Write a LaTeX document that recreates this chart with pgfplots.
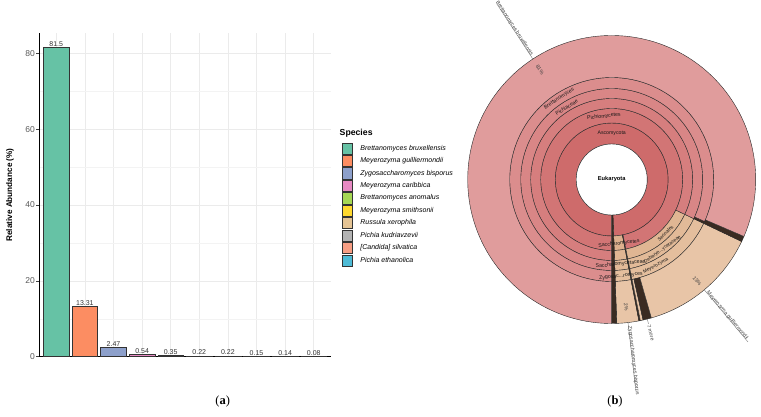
\documentclass[border=0pt]{standalone}
\usepackage{fontspec}
\setmainfont{Liberation Sans}
\newfontfamily\capfont{Liberation Serif}
\usepackage{pgfplots}
\pgfplotsset{compat=1.18}

% bar palette
\definecolor{c1}{HTML}{66C2A5}
\definecolor{c2}{HTML}{FC8D62}
\definecolor{c3}{HTML}{8DA0CB}
\definecolor{c4}{HTML}{E78AC3}
\definecolor{c5}{HTML}{A6D854}
\definecolor{c6}{HTML}{FFD92F}
\definecolor{c7}{HTML}{E5C494}
\definecolor{c8}{HTML}{B3B3B3}
\definecolor{c9}{HTML}{F79E84}
\definecolor{c10}{HTML}{4EBBD6}
\definecolor{gridmaj}{HTML}{EBEBEB}
\definecolor{gridmin}{HTML}{F3F3F3}
% sunburst palette (inner ring to outer ring)
\definecolor{pk1}{HTML}{CE6B6B}
\definecolor{pk2}{HTML}{D27575}
\definecolor{pk3}{HTML}{D67E7E}
\definecolor{pk4}{HTML}{D98686}
\definecolor{pk5}{HTML}{DB8D8D}
\definecolor{pk6}{HTML}{E09C9C}
\definecolor{tn2}{HTML}{DDB08E}
\definecolor{tn3}{HTML}{E0B693}
\definecolor{tn4}{HTML}{E2BA98}
\definecolor{tn5}{HTML}{E4BE9D}
\definecolor{tn6}{HTML}{E8C5A7}
\definecolor{dk}{HTML}{3A2B22}
\definecolor{edge}{HTML}{2A2A2A}

% annular sector: inner radius, outer radius, start angle, end angle, colour
\newcommand{\sector}[5]{%
  \filldraw[fill=#5, draw=edge, line width=0.4pt, line join=round]
    (axis cs:{#1*cos(#3)},{#1*sin(#3)})
    arc[start angle=#3, end angle=#4, radius=#1pt]
    -- (axis cs:{#2*cos(#4)},{#2*sin(#4)})
    arc[start angle=#4, end angle=#3, radius=#2pt] -- cycle;}
% label along a ring: angle, radius, rotation, text
\newcommand{\ringlabel}[4]{%
  \node[rotate=#3, font=\fontsize{5.2}{6}\selectfont, text=black!90, inner sep=0pt]
    at (axis cs:{#2*cos(#1)},{#2*sin(#1)}) {#4};}
\newcommand{\smallringlabel}[4]{%
  \node[rotate=#3, font=\fontsize{4.8}{5.5}\selectfont, text=black!90, inner sep=0pt]
    at (axis cs:{#2*cos(#1)},{#2*sin(#1)}) {#4};}

\begin{document}
\begin{tikzpicture}
\path[use as bounding box] (0,0) rectangle (761pt,416pt);

% ---------------- (a) relative abundance bars ----------------
\begin{axis}[
  at={(39.1pt,59.3pt)}, anchor=south west,
  scale only axis, width=291.8pt, height=323.4pt,
  xmin=0.4, xmax=10.6, ymin=0, ymax=85.3,
  ybar, bar width=0.9,
  axis x line*=bottom, axis y line*=left,
  axis line style={-, black, line width=0.6pt},
  xtick={1,...,10}, xticklabels={}, x tick style={draw=none},
  ytick={0,20,40,60,80}, minor ytick={10,30,50,70},
  grid=both,
  major grid style={draw=gridmaj, line width=0.55pt},
  minor grid style={draw=gridmin, line width=0.45pt},
  tick align=outside, major tick length=2.8pt, minor tick length=0pt,
  y tick style={draw=black!75, line width=0.5pt},
  yticklabel style={font=\fontsize{8.5}{9}\selectfont, text=black!65, inner sep=1.2pt},
  /pgf/number format/assume math mode=true,
  ylabel={\textbf{Relative Abundance (\%)}},
  ylabel style={font=\fontsize{8.2}{9}\selectfont, at={(axis description cs:-0.0997,0.5)}, anchor=center},
  nodes near coords={\pgfmathprintnumber[fixed,precision=2]{\pgfplotspointmeta}},
  nodes near coords style={font=\fontsize{7}{8}\selectfont, text=black!80, inner sep=0.6pt, anchor=south},
  legend image code/.code={\draw[#1, draw=black!80, line width=0.5pt] (0pt,-5.6pt) rectangle (10.6pt,5.6pt);},
  legend style={at={(axis description cs:1.037,0.6628)}, anchor=north west,
    draw=none, fill=none, inner sep=0pt, row sep=0.75pt,
    font=\fontsize{7}{8}\selectfont\itshape, cells={anchor=west},
    /tikz/every odd column/.append style={column sep=5.4pt}},
  clip=false,
]
\addplot[fill=c1,  draw=black!80, line width=0.55pt, bar shift=0pt] coordinates {(1,81.5)};
\addlegendentry{Brettanomyces bruxellensis}
\addplot[fill=c2,  draw=black!80, line width=0.55pt, bar shift=0pt] coordinates {(2,13.31)};
\addlegendentry{Meyerozyma guilliermondii}
\addplot[fill=c3,  draw=black!80, line width=0.55pt, bar shift=0pt] coordinates {(3,2.47)};
\addlegendentry{Zygosaccharomyces bisporus}
\addplot[fill=c4,  draw=black!80, line width=0.55pt, bar shift=0pt] coordinates {(4,0.54)};
\addlegendentry{Meyerozyma caribbica}
\addplot[fill=c5,  draw=black!80, line width=0.55pt, bar shift=0pt] coordinates {(5,0.35)};
\addlegendentry{Brettanomyces anomalus}
\addplot[fill=c6,  draw=black!80, line width=0.55pt, bar shift=0pt] coordinates {(6,0.22)};
\addlegendentry{Meyerozyma smithsonii}
\addplot[fill=c7,  draw=black!80, line width=0.55pt, bar shift=0pt] coordinates {(7,0.22)};
\addlegendentry{Russula xerophila}
\addplot[fill=c8,  draw=black!80, line width=0.55pt, bar shift=0pt] coordinates {(8,0.15)};
\addlegendentry{Pichia kudriavzevii}
\addplot[fill=c9,  draw=black!80, line width=0.55pt, bar shift=0pt] coordinates {(9,0.14)};
\addlegendentry{[Candida] silvatica}
\addplot[fill=c10, draw=black!80, line width=0.55pt, bar shift=0pt] coordinates {(10,0.08)};
\addlegendentry{Pichia ethanolica}
\node[anchor=base west, font=\fontsize{8.7}{10}\selectfont\bfseries, inner sep=0pt]
  at (axis description cs:1.0295,0.684) {Species};
\end{axis}

% ---------------- (b) taxonomic sunburst ----------------
% ring radii: 35.5 56.5 71 81 91 102 144
\begin{axis}[
  at={(611.7pt,236.5pt)}, anchor=center,
  x=1pt, y=1pt, xmin=-150, xmax=150, ymin=-150, ymax=150,
  hide axis, clip=false,
]
% Ascomycota
\sector{35.5}{56.5}{-88}{270}{pk1}
% class
\sector{56.5}{71}{-88}{-79.1}{tn2}
\sector{56.5}{71}{-79.1}{-78.5}{dk}
\sector{56.5}{71}{-78.5}{270}{pk2}
% order
\sector{71}{81}{-88}{-79.1}{tn3}
\sector{71}{81}{-79.1}{-78.5}{dk}
\sector{71}{81}{-78.5}{-25.5}{tn3}
\sector{71}{81}{-25.5}{270}{pk3}
% family
\sector{81}{91}{-88}{-79.1}{tn4}
\sector{81}{91}{-79.1}{-78.5}{dk}
\sector{81}{91}{-78.5}{-25.5}{tn4}
\sector{81}{91}{-25.5}{270}{pk4}
% genus
\sector{91}{102}{-88}{-79.1}{tn5}
\sector{91}{102}{-79.1}{-78.5}{dk}
\sector{91}{102}{-78.5}{-25.5}{tn5}
\sector{91}{102}{-25.5}{-24.3}{dk}
\sector{91}{102}{-24.3}{270}{pk5}
% species
\sector{102}{144}{-88}{-79.1}{tn6}
\sector{102}{144}{-79.1}{-78.5}{dk}
\sector{102}{144}{-78.5}{-77.4}{tn6}
\sector{102}{144}{-77.4}{-74.0}{dk}
\sector{102}{144}{-74.0}{-25.5}{tn6}
\sector{102}{144}{-25.5}{-23.3}{dk}
\sector{102}{144}{-23.3}{270}{pk6}
% unassigned sliver through every ring
\sector{35.5}{144}{-90}{-88}{dk}
% centre
\filldraw[fill=white, draw=edge, line width=0.4pt] (axis cs:0,0) circle[radius=35.5pt];
\node[font=\fontsize{5.7}{6}\selectfont\bfseries] at (axis cs:0,0) {Eukaryota};

% ring labels
\ringlabel{90}{46}{0}{Ascomycota}
\ringlabel{97}{63.5}{7}{Pichiomycetes}
\ringlabel{122}{85}{32}{Pichiaceae}
\ringlabel{123}{96.5}{33}{Brettanomyces}
\ringlabel{-83.5}{64.5}{6.5}{Saccharomycetes}
\ringlabel{-84}{85}{6}{Saccharomycetaceae}
\ringlabel{-84.5}{97}{5.5}{Zygosac...romyces}
\smallringlabel{-45}{76}{45}{Serinales}
\smallringlabel{-54}{86.5}{36}{Debaryo...ycetaceae}
\smallringlabel{-63}{97}{27}{Meyerozyma}

% leaf labels outside the rings
\draw[black!55, line width=0.35pt] (axis cs:{144*cos(123.2)},{144*sin(123.2)}) -- (axis cs:{210*cos(123.2)},{210*sin(123.2)});
\node[rotate=-56.8, anchor=base east, inner sep=0.6pt, font=\fontsize{5.2}{6}\selectfont, text=black!75]
  at (axis cs:{147*cos(123.2)},{147*sin(123.2)}) {Brettanomyces bruxellensis};
\node[rotate=-56.8, font=\fontsize{5.2}{6}\selectfont, text=black!75]
  at (axis cs:{131*cos(123.2)},{131*sin(123.2)}) {81\%};

\draw[black!55, line width=0.35pt] (axis cs:{144*cos(-50)},{144*sin(-50)}) -- (axis cs:{212*cos(-50)},{212*sin(-50)});
\node[rotate=-50, anchor=base west, inner sep=0.6pt, font=\fontsize{5.2}{6}\selectfont, text=black!75]
  at (axis cs:{147*cos(-50)},{147*sin(-50)}) {Meyerozyma guilliermondii};
\node[rotate=-50, font=\fontsize{5.2}{6}\selectfont, text=black!75]
  at (axis cs:{133*cos(-50)},{133*sin(-50)}) {13\%};

\draw[black!55, line width=0.35pt] (axis cs:{144*cos(-83.5)},{144*sin(-83.5)}) -- (axis cs:{212*cos(-83.5)},{212*sin(-83.5)});
\node[rotate=-83.5, anchor=base west, inner sep=0.6pt, font=\fontsize{5.2}{6}\selectfont, text=black!75]
  at (axis cs:{147*cos(-83.5)},{147*sin(-83.5)}) {Zygosaccharomyces bisporus};
\node[rotate=-83.5, font=\fontsize{5.2}{6}\selectfont, text=black!75]
  at (axis cs:{128*cos(-83.5)},{128*sin(-83.5)}) {2\%};

\draw[black!55, line width=0.35pt] (axis cs:{144*cos(-75.7)},{144*sin(-75.7)}) -- (axis cs:{149*cos(-75.7)},{149*sin(-75.7)});
\node[rotate=-75.7, anchor=west, inner sep=0.6pt, font=\fontsize{5.2}{6}\selectfont, text=black!75]
  at (axis cs:{149.5*cos(-75.7)},{149.5*sin(-75.7)}) {7 more};
\end{axis}

% panel captions
\node[font=\capfont\fontsize{12.5}{14}\selectfont] at (222.7pt,14.3pt) {(\textbf{a})};
\node[font=\capfont\fontsize{12.5}{14}\selectfont] at (615pt,14.3pt) {(\textbf{b})};
\end{tikzpicture}
\end{document}
